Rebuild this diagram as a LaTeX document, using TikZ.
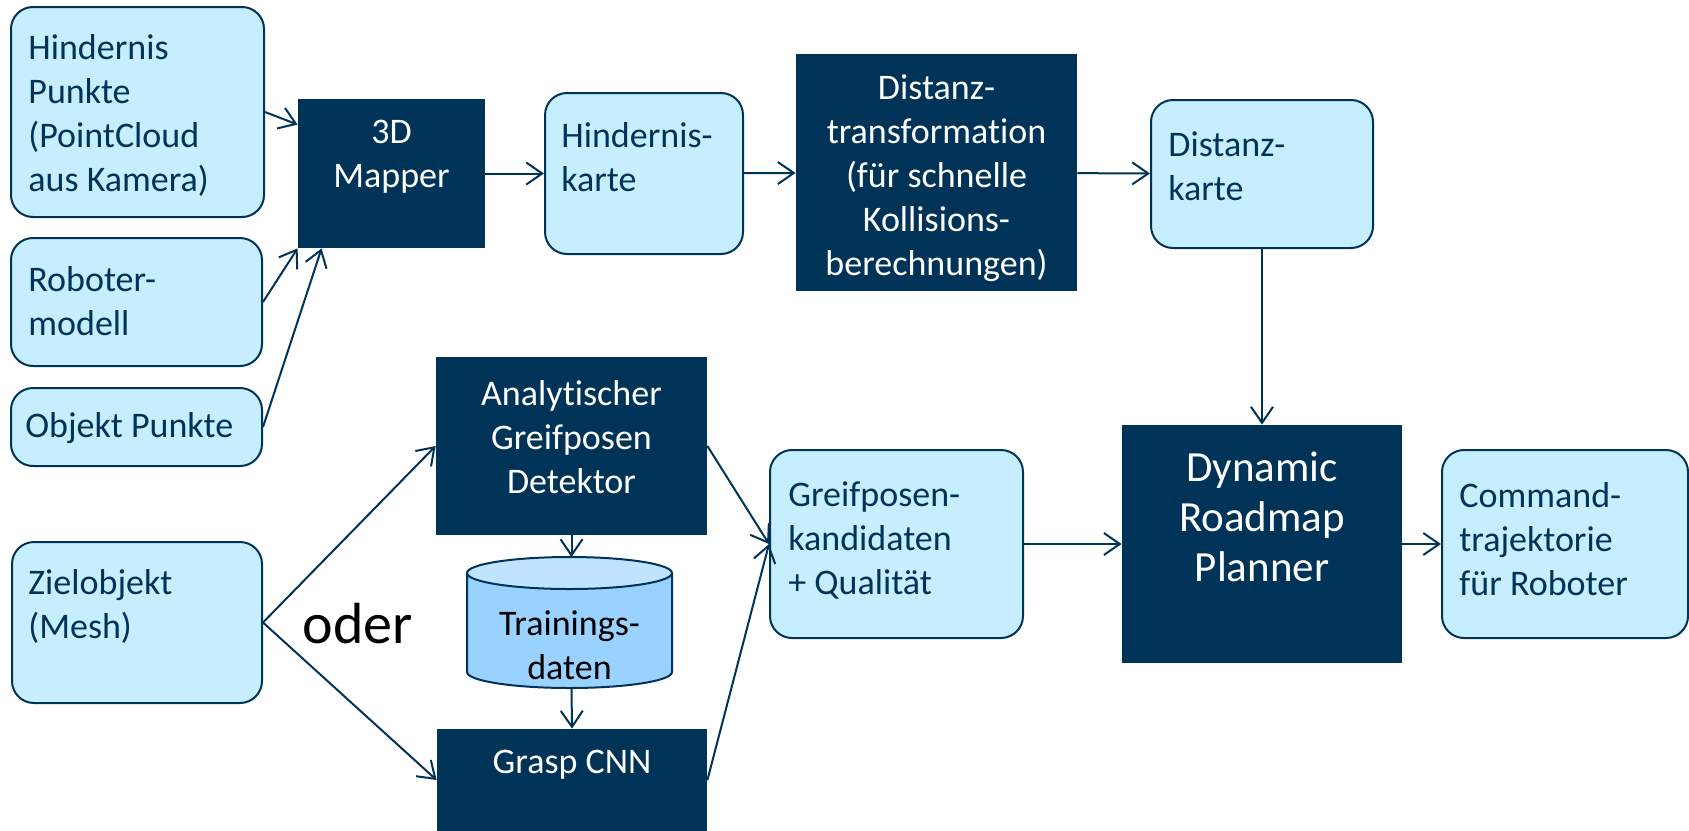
\documentclass[tikz,border=0pt]{standalone}
\usepackage{fontspec}
\setmainfont{Carlito}[Ligatures=NoCommon,Contextuals=NoAlternate,RawFeature={-clig}]
\usetikzlibrary{arrows.meta}
\definecolor{navy}{HTML}{003358}
\definecolor{lightcyan}{HTML}{C6EEFE}
\definecolor{cylbody}{HTML}{99D1FF}
\definecolor{cyltop}{HTML}{C0E4FF}
\begin{document}
\begin{tikzpicture}[x=0.5pt,y=-0.5pt,
  lbox/.style={rectangle,rounded corners=11pt,draw=navy,line width=1pt,fill=lightcyan,inner sep=0pt},
  dbox/.style={rectangle,fill=navy,inner sep=0pt},
  ltext/.style={text=navy,align=left,anchor=west,inner sep=0pt,font=\fontsize{18}{22}\selectfont},
  dtext/.style={text=white,align=center,inner sep=0pt,font=\fontsize{18}{22}\selectfont},
  arr/.style={draw=navy,line width=1pt,-{Straight Barb[length=8pt,width=11pt]}}]
\useasboundingbox (0,0) rectangle (1689,830);
% input boxes
\node[lbox,minimum width=126.5pt,minimum height=105pt] (hp) at (137.5,112) {};
\node[lbox,minimum width=125.5pt,minimum height=64pt] (rm) at (136.5,302) {};
\node[lbox,minimum width=125.5pt,minimum height=39pt] (op) at (136.5,427) {};
\node[lbox,minimum width=125pt,minimum height=80.5pt] (zo) at (137,622.5) {};
\node[ltext] (hp-t) at (28,115) {Hindernis\\Punkte\\(PointCloud\\aus Kamera)};
\node[ltext] (rm-t) at (28,301) {Roboter-\\modell};
\node[ltext] (op-t) at (25,428) {Objekt Punkte};
\node[ltext] (zo-t) at (28,606) {Zielobjekt\\(Mesh)};
% upper row
\node[dbox,minimum width=93.5pt,minimum height=74.5pt] (mapper) at (391.5,173.5) {};
\node[lbox,minimum width=99pt,minimum height=80.5pt] (hk) at (644,173.5) {};
\node[dbox,minimum width=140.5pt,minimum height=118.5pt] (dt) at (936.5,172.5) {};
\node[lbox,minimum width=111pt,minimum height=74pt] (dk) at (1262,174) {};
\node[dtext] (mapper-t) at (391.5,156.5) {3D\\Mapper};
\node[ltext] (hk-t) at (561,157.5) {Hindernis-\\karte};
\node[dtext] (dt-t) at (936.5,178.5) {Distanz-\\transformation\\(für schnelle\\Kollisions-\\berechnungen)};
\node[ltext] (dk-t) at (1168,166) {Distanz-\\karte};
% grasp detection
\node[dbox,minimum width=135.5pt,minimum height=89pt] (ag) at (571.5,446) {};
\node[dbox,minimum width=135pt,minimum height=51pt] (gc) at (572,780) {};
\node[dtext] (ag-t) at (571.5,437) {Analytischer\\Greifposen\\Detektor};
\node[dtext] (gc-t) at (572,765) {Grasp CNN};
\filldraw[draw=navy,line width=1pt,fill=cylbody] (467,573) -- (467,672)
  arc[start angle=180,end angle=360,x radius=51.25pt,y radius=8pt] -- (672,573);
\filldraw[draw=navy,line width=1pt,fill=cyltop] (569.5,573) ellipse[x radius=51.25pt,y radius=8pt];
\coordinate (td-top) at (571.5,557);
\coordinate (td-bot) at (571.5,688);
\node[dtext,text=black] (td) at (569.5,645.5) {Trainings-\\daten};
\node[anchor=base,inner sep=0pt,font=\fontsize{29}{35}\selectfont] (oder) at (357.5,643) {oder};
% planner and output
\node[lbox,minimum width=126.5pt,minimum height=94pt] (gp) at (896.5,544) {};
\node[dbox,minimum width=140pt,minimum height=119pt] (pl) at (1262,544) {};
\node[lbox,minimum width=123pt,minimum height=94pt] (cm) at (1565,544) {};
\node[ltext] (gp-t) at (788,540) {Greifposen-\\kandidaten\\+ Qualität};
\node[dtext,font=\fontsize{21.5}{25}\selectfont] (pl-t) at (1262,517) {Dynamic\\Roadmap\\Planner};
\node[ltext] (cm-t) at (1459,539) {Command-\\trajektorie\\für Roboter};
% connectors
\draw[arr] (hp.east) -- ([yshift=-13pt]mapper.north west);
\draw[arr] (rm.east) -- (mapper.south west);
\draw[arr] (op.east) -- ([xshift=12pt]mapper.south west);
\draw[arr] (mapper) -- (hk);
\draw[arr] (hk) -- (dt);
\draw[arr] (dt) -- (dk);
\draw[arr] (dk) -- (pl);
\draw[arr] (zo.east) -- (ag.west);
\draw[arr] (zo.east) -- (gc.west);
\draw[arr] (ag.south) -- (td-top);
\draw[arr] (td-bot) -- (gc.north);
\draw[arr] (ag.east) -- (gp.west);
\draw[arr] (gc.east) -- (gp.west);
\draw[arr] (gp) -- (pl);
\draw[arr] (pl) -- (cm);
\end{tikzpicture}
\end{document}
